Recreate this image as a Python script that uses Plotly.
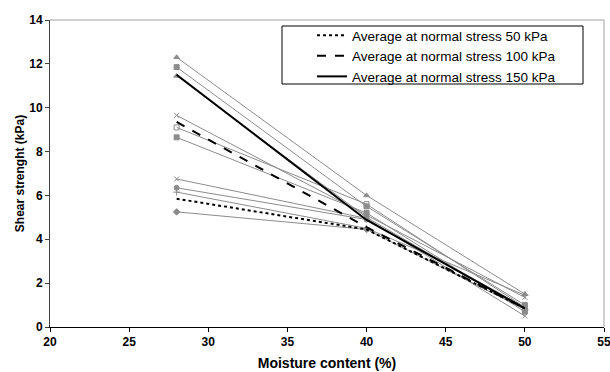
import plotly.graph_objects as go

moisture = [28, 40, 50]

# individual test series (gray)
series_vals = [
    [12.3, 6.0, 1.5],
    [11.85, 5.5, 1.0],
    [11.45, 5.0, 0.8],
    [9.65, 5.1, 1.35],
    [9.1, 5.6, 0.9],
    [8.65, 5.2, 0.7],
    [6.75, 4.95, 0.5],
    [6.35, 4.9, 0.9],
    [6.15, 4.5, 1.45],
    [5.25, 4.45, 0.8],
]
series_markers = ["triangle-up", "square", "triangle-up", "x-thin", "square-open",
                  "square", "x-thin", "circle", "cross-thin", "diamond"]

avg_names = ["Average at normal stress 50 kPa",
             "Average at normal stress 100 kPa",
             "Average at normal stress 150 kPa"]
avg_vals = [
    [5.85, 4.45, 0.85],
    [9.35, 4.55, 0.85],
    [11.5, 4.88, 0.85],
]
avg_dash = ["dot", "dash", "solid"]

x_ticks = [20, 25, 30, 35, 40, 45, 50, 55]
y_ticks = [0, 2, 4, 6, 8, 10, 12, 14]

fig = go.Figure()
for vals, m in zip(series_vals, series_markers):
    fig.add_trace(go.Scatter(
        x=moisture, y=vals, mode="lines+markers", showlegend=False,
        line=dict(color="#8c8c8c", width=1),
        marker=dict(symbol=m, size=5, color="#8c8c8c",
                    line=dict(color="#8c8c8c", width=1)),
    ))
for name, vals, d in zip(avg_names, avg_vals, avg_dash):
    fig.add_trace(go.Scatter(
        x=moisture, y=vals, mode="lines", name=name,
        line=dict(color="black", width=2, dash=d),
    ))

W, H = 610, 372
L, R, T, B = 50, 6, 20, 45
pw, ph = W - L - R, H - T - B

def px2paper(x, y):
    return (x - L) / pw, (H - B - y) / ph

x0, y0 = px2paper(282, 26)
x1, y1 = px2paper(583, 84)
lx, ly = px2paper(312, 20)

FONT = "Liberation Sans, Arial, sans-serif"

fig.update_layout(
    width=W, height=H,
    margin=dict(l=L, r=R, t=T, b=B),
    paper_bgcolor="white", plot_bgcolor="white",
    font=dict(family=FONT, size=11, color="black"),
    xaxis=dict(
        range=[20, 55], tickvals=x_ticks, ticktext=[f"<b>{v}</b>" for v in x_ticks],
        showgrid=False, zeroline=False, automargin=False, ticklabeloverflow="allow",
        showline=True, linecolor="black", linewidth=1,
        ticks="outside", ticklen=4, tickcolor="black",
        tickfont=dict(size=12, family=FONT, color="black"),
        title=dict(text="<b>Moisture content (%)</b>", font=dict(size=14), standoff=9),
    ),
    yaxis=dict(
        range=[0, 14], tickvals=y_ticks, ticktext=[f"<b>{v}</b>" for v in y_ticks],
        showgrid=False, zeroline=False, automargin=False, ticklabeloverflow="allow",
        showline=True, linecolor="#404040", linewidth=1,
        ticks="outside", ticklen=4, tickcolor="#404040",
        tickfont=dict(size=12, family=FONT, color="black"),
        title=dict(text="<b>Shear strenght (kPa)</b>", font=dict(size=12), standoff=2),
    ),
    legend=dict(
        x=lx, y=ly, xanchor="left", yanchor="top",
        bgcolor="rgba(0,0,0,0)", borderwidth=0,
        font=dict(size=13.5), itemwidth=30, tracegroupgap=0,
    ),
    shapes=[
        dict(type="line", xref="paper", yref="paper", x0=0, x1=1, y0=1, y1=1,
             line=dict(color="#a0a0a0", width=1)),
        dict(type="line", xref="paper", yref="paper", x0=1, x1=1, y0=0, y1=1,
             line=dict(color="#a0a0a0", width=1)),
        dict(type="rect", xref="paper", yref="paper", x0=x0, x1=x1, y0=y1, y1=y0,
             line=dict(color="black", width=1), fillcolor="white", layer="above"),
    ],
)

fig.write_html("out.html")
